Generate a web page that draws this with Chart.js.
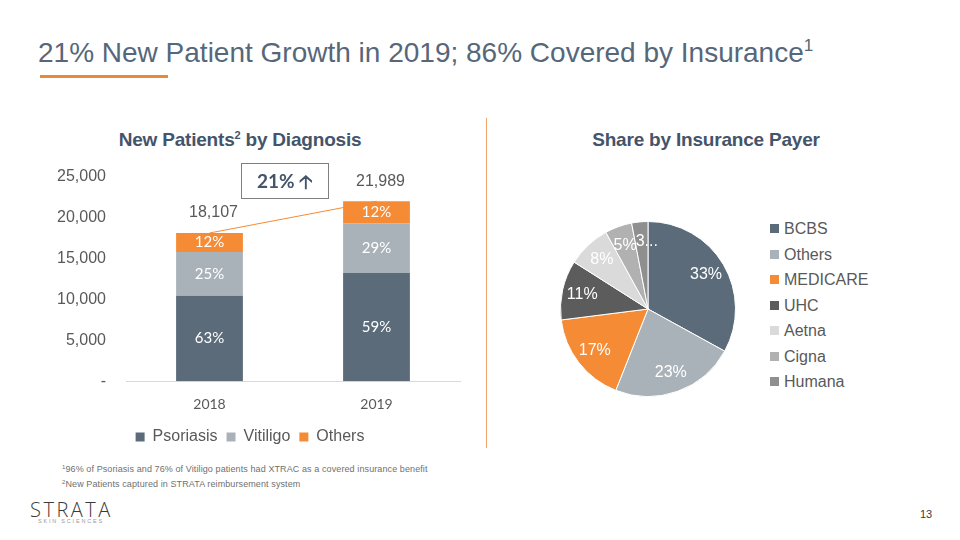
<!DOCTYPE html>
<html>
<head>
<meta charset="utf-8">
<script src="https://cdn.jsdelivr.net/npm/chart.js@4"></script>
<style>
  body { margin: 0; width: 960px; height: 540px; background: #fff; position: relative; overflow: hidden; font-family: "Liberation Sans", Arial, sans-serif; }
  .abs { position: absolute; }
  #title { left: 38px; top: 37px; font-size: 28px; color: #56677a; white-space: nowrap; }
  #title sup { font-size: 17px; vertical-align: 11px; line-height: 0; }
  #underline { left: 40px; top: 75px; width: 128px; height: 3px; background: #e8893a; }
  .subtitle { top: 129px; font-size: 19px; font-weight: bold; color: #44546a; white-space: nowrap; transform: translateX(-50%); letter-spacing: -0.2px; }
  .subtitle sup { font-size: 11px; vertical-align: 7px; line-height: 0; }
  #divider { left: 486px; top: 118px; width: 1px; height: 330px; background: #f2a56a; }
  #growth { left: 241px; top: 163px; width: 86px; height: 34px; border: 1px solid #7f7f7f; font: bold 19px Lato, sans-serif; color: #44546a; text-align: center; line-height: 34px; }
  #pieLegend { left: 770px; top: 219px; font-size: 16px; color: #595959; }
  #pieLegend div { height: 25.5px; line-height: 20px; white-space: nowrap; }
  #pieLegend span { display: inline-block; width: 9px; height: 9px; margin-right: 5px; vertical-align: 1px; }
  .foot { left: 62px; font-size: 9px; color: #707070; white-space: nowrap; letter-spacing: 0.1px; }
  .foot sup { font-size: 6px; vertical-align: 3px; line-height: 0; }
  #logo { left: 30px; top: 496px; font: 300 20px "Open Sans", sans-serif; letter-spacing: 2.5px; color: #3a3a3a; }
  #logoSub { left: 38px; top: 518px; font-size: 5.5px; letter-spacing: 1.8px; color: #9a9a9a; }
  #page { left: 920px; top: 508px; font-size: 11px; color: #404040; }
</style>
</head>
<body>
<div id="title" class="abs">21% New Patient Growth in 2019; 86% Covered by Insurance<sup>1</sup></div>
<div id="underline" class="abs"></div>
<div class="abs subtitle" style="left:240px">New Patients<sup>2</sup> by Diagnosis</div>
<div class="abs subtitle" style="left:706px">Share by Insurance Payer</div>
<div id="divider" class="abs"></div>

<div class="abs" style="left:40px; top:155px; width:430px; height:300px;"><canvas id="bars"></canvas></div>
<div id="growth" class="abs">21% &#129121;</div>

<div class="abs" style="left:560px; top:221px; width:176px; height:176px;"><canvas id="pie"></canvas></div>
<div id="pieLegend" class="abs"></div>

<div class="abs foot" style="top:464px"><sup>1</sup>96% of Psoriasis and 76% of Vitiligo patients had XTRAC as a covered insurance benefit</div>
<div class="abs foot" style="top:479px"><sup>2</sup>New Patients captured in STRATA reimbursement system</div>
<div id="logo" class="abs">STRATA</div>
<div id="logoSub" class="abs">SKIN SCIENCES</div>
<div id="page" class="abs">13</div>

<script>
// bar chart data
const years = ['2018', '2019'];
const psoriasis = [10440, 13230];
const vitiligo = [5340, 6070];
const others = [2327, 2689];
const totals = ['18,107', '21,989'];
const psoriasisPct = ['63%', '59%'];
const vitiligoPct = ['25%', '29%'];
const othersPct = ['12%', '12%'];
const yTicks = [0, 5000, 10000, 15000, 20000, 25000];

// pie data
const payers = ['BCBS', 'Others', 'MEDICARE', 'UHC', 'Aetna', 'Cigna', 'Humana'];
const payerShare = [33, 23, 17, 11, 8, 5, 3];
const payerLabels = ['33%', '23%', '17%', '11%', '8%', '5%', '3...'];
const payerColors = ['#5b6b7a', '#aab2b9', '#f58b34', '#5c5c5c', '#dadada', '#b1b1b1', '#8f8f8f'];

const slate = '#5b6b7a', grey = '#aab2b9', orange = '#f58b34';

const barLabels = {
  id: 'barLabels',
  afterDatasetsDraw(chart) {
    const ctx = chart.ctx;
    const pcts = [psoriasisPct, vitiligoPct, othersPct];
    ctx.save();
    ctx.textAlign = 'center';
    ctx.textBaseline = 'middle';
    ctx.font = '15px Lato, sans-serif';
    ctx.fillStyle = '#fff';
    chart.data.datasets.forEach((ds, i) => {
      chart.getDatasetMeta(i).data.forEach((bar, j) => {
        ctx.fillText(pcts[i][j], bar.x, (bar.y + bar.base) / 2);
      });
    });
    // totals and connector
    const top = chart.getDatasetMeta(2).data;
    ctx.strokeStyle = orange;
    ctx.lineWidth = 1;
    ctx.beginPath();
    ctx.moveTo(top[0].x, top[0].y);
    ctx.lineTo(top[1].x, top[1].y);
    ctx.stroke();
    ctx.fillStyle = '#595959';
    ctx.font = '16px "Liberation Sans", Arial, sans-serif';
    top.forEach((bar, j) => ctx.fillText(totals[j], bar.x + 4, bar.y - 20));
    ctx.restore();
  }
};

new Chart(document.getElementById('bars'), {
  type: 'bar',
  data: {
    labels: years,
    datasets: [
      { label: 'Psoriasis', data: psoriasis, backgroundColor: slate },
      { label: 'Vitiligo', data: vitiligo, backgroundColor: grey },
      { label: 'Others', data: others, backgroundColor: orange }
    ]
  },
  options: {
    responsive: true,
    maintainAspectRatio: false,
    animation: false,
    layout: { padding: { top: 8, right: 10 } },
    datasets: { bar: { barPercentage: 0.8, categoryPercentage: 0.5 } },
    scales: {
      x: {
        stacked: true,
        grid: { display: false },
        border: { display: true, color: '#d9d9d9' },
        ticks: { color: '#595959', font: { family: 'Lato', size: 14 }, padding: 7 }
      },
      y: {
        stacked: true,
        min: 0,
        max: 25000,
        afterBuildTicks: s => { s.ticks = yTicks.map(v => ({ value: v })); },
        afterFit: s => { s.width = 86; },
        grid: { display: false },
        border: { display: false },
        ticks: {
          color: '#595959',
          padding: 12,
          font: { family: 'Liberation Sans', size: 16 },
          callback: v => v === 0 ? '-' : v.toLocaleString('en-US')
        }
      }
    },
    plugins: {
      legend: {
        position: 'bottom',
        labels: { boxWidth: 9, boxHeight: 9, padding: 9, color: '#595959', font: { family: 'Liberation Sans', size: 16 } }
      },
      tooltip: { enabled: false }
    }
  },
  plugins: [barLabels]
});

const pieLabels = {
  id: 'pieLabels',
  afterDatasetsDraw(chart) {
    const ctx = chart.ctx;
    ctx.save();
    ctx.textBaseline = 'middle';
    ctx.font = '16px "Liberation Sans", Arial, sans-serif';
    ctx.fillStyle = '#fff';
    chart.getDatasetMeta(0).data.forEach((arc, i) => {
      const a = (arc.startAngle + arc.endAngle) / 2;
      const r = arc.outerRadius * 0.77;
      let x = arc.x + Math.cos(a) * r;
      const y = arc.y + Math.sin(a) * r;
      // truncated label starts at the slice point, like the original
      if (payerLabels[i].endsWith('...')) { ctx.textAlign = 'left'; x -= 6; } else { ctx.textAlign = 'center'; }
      ctx.fillText(payerLabels[i], x, y);
    });
    ctx.restore();
  }
};

new Chart(document.getElementById('pie'), {
  type: 'pie',
  data: {
    labels: payers,
    datasets: [{ data: payerShare, backgroundColor: payerColors, borderColor: '#fff', borderWidth: 1 }]
  },
  options: {
    responsive: true,
    maintainAspectRatio: false,
    animation: false,
    plugins: { legend: { display: false }, tooltip: { enabled: false } }
  },
  plugins: [pieLabels]
});

const legendBox = document.getElementById('pieLegend');
payers.forEach((p, i) => {
  const row = document.createElement('div');
  row.innerHTML = '<span style="background:' + payerColors[i] + '"></span>' + p;
  legendBox.appendChild(row);
});
</script>
</body>
</html>
